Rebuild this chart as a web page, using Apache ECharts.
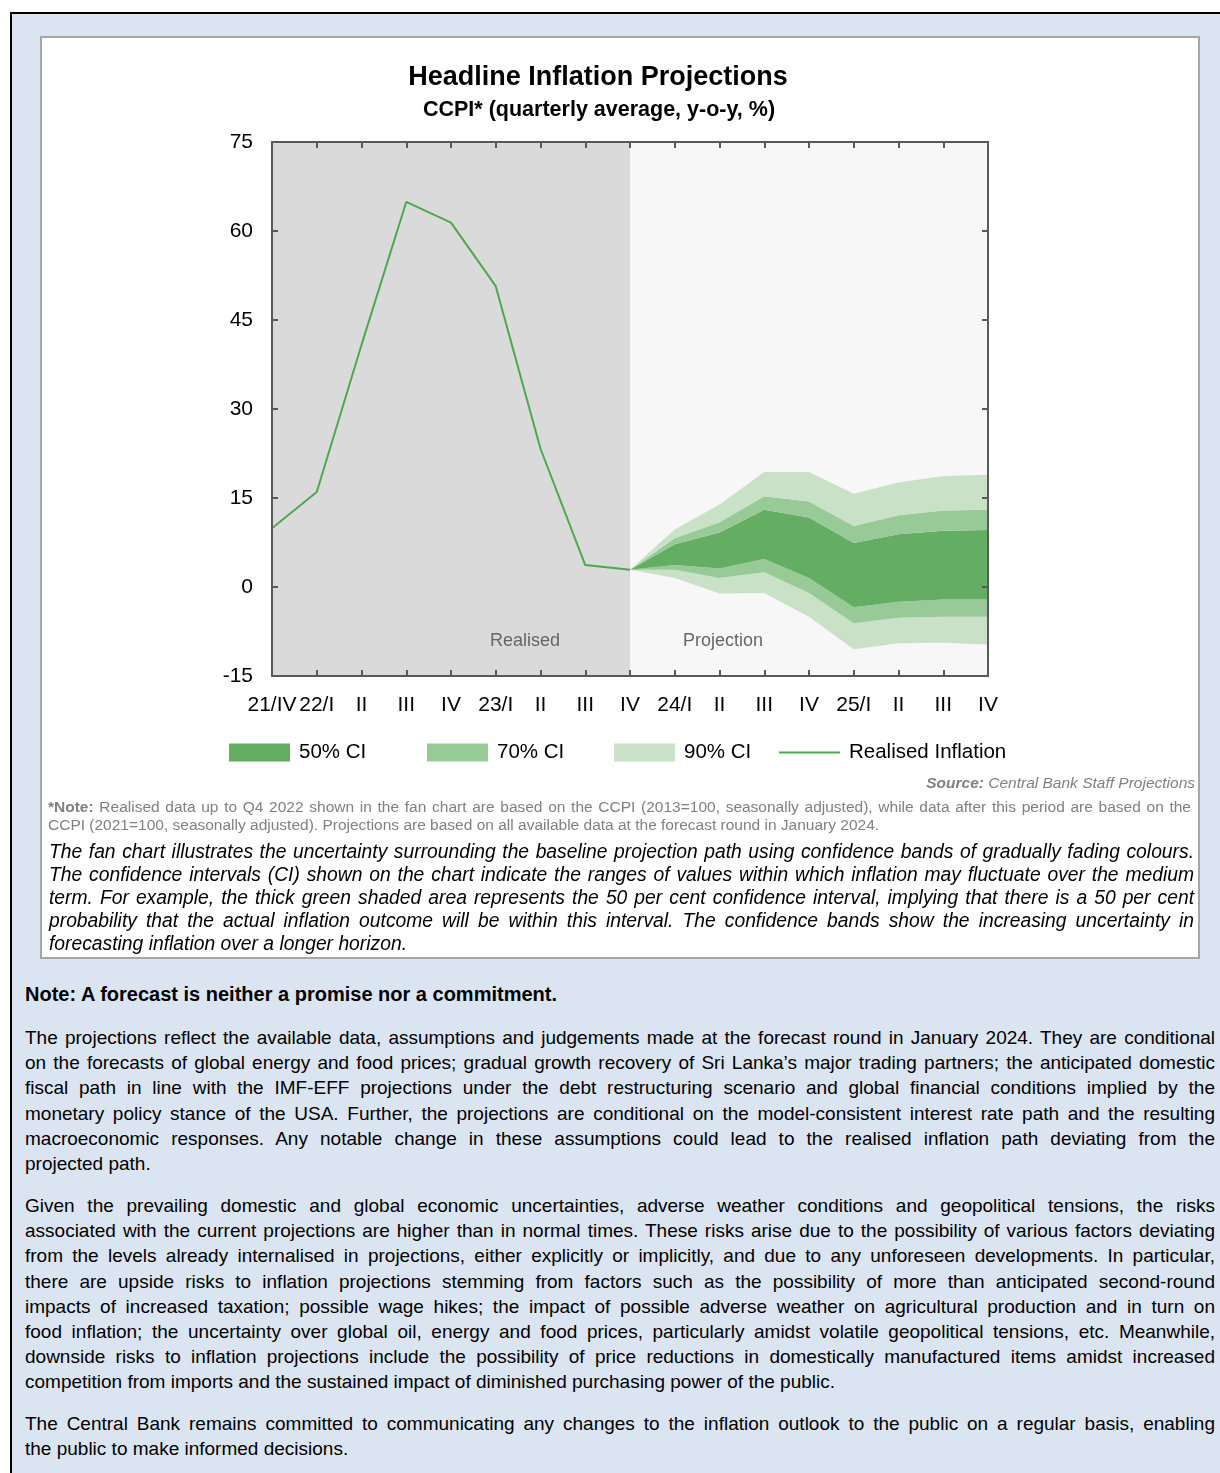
<!DOCTYPE html>
<html>
<head>
<meta charset="utf-8">
<script src="https://cdn.jsdelivr.net/npm/echarts@6/dist/echarts.min.js"></script>
<style>
    body { margin: 0; width: 1220px; height: 1473px; background: #fff; position: relative; overflow: hidden;
           font-family: "Liberation Sans", Arial, sans-serif; }
    #page { position: absolute; left: 10px; top: 12px; width: 1210px; height: 1461px; background: #dbe5f1;
            border-top: 2px solid #000; border-left: 2px solid #000; box-sizing: border-box; }
    #box { position: absolute; left: 40px; top: 36px; width: 1160px; height: 923px; background: #fff;
           border: 2px solid #a6a6a6; box-sizing: border-box; }
    #chart { position: absolute; left: 0; top: 0; width: 1220px; height: 800px; }
    .j { text-align: justify; text-align-last: justify; white-space: nowrap; }
    .src { position: absolute; right: 25px; top: 774px; font-size: 15.5px; font-style: italic; color: #808080; }
    .note { position: absolute; left: 48px; top: 798px; width: 1143px; font-size: 15.5px; line-height: 18px; color: #808080; }
    .fan { position: absolute; left: 49px; top: 840px; width: 1145px; font-size: 19.3px; line-height: 23px; font-style: italic; color: #000; }
    .head { position: absolute; left: 25px; top: 983px; font-size: 20px; font-weight: bold; color: #000; }
    .para { position: absolute; left: 25px; width: 1190px; font-size: 19px; line-height: 25.2px; color: #000; }
</style>
</head>
<body>
<div id="page"></div>
<div id="box"></div>
<div id="chart"></div>

<div class="src"><b>Source:</b> Central Bank Staff Projections</div>
<div class="note">
    <div class="j"><b>*Note:</b> Realised data up to Q4 2022 shown in the fan chart are based on the CCPI (2013=100, seasonally adjusted), while data after this period are based on the</div>
    <div>CCPI (2021=100, seasonally adjusted). Projections are based on all available data at the forecast round in January 2024.</div>
</div>
<div class="fan">
    <div class="j">The fan chart illustrates the uncertainty surrounding the baseline projection path using confidence bands of gradually fading colours.</div>
    <div class="j">The confidence intervals (CI) shown on the chart indicate the ranges of values within which inflation may fluctuate over the medium</div>
    <div class="j">term. For example, the thick green shaded area represents the 50 per cent confidence interval, implying that there is a 50 per cent</div>
    <div class="j">probability that the actual inflation outcome will be within this interval. The confidence bands show the increasing uncertainty in</div>
    <div>forecasting inflation over a longer horizon.</div>
</div>

<div class="head">Note: A forecast is neither a promise nor a commitment.</div>
<div class="para" style="top:1025px">
    <div class="j">The projections reflect the available data, assumptions and judgements made at the forecast round in January 2024. They are conditional</div>
    <div class="j">on the forecasts of global energy and food prices; gradual growth recovery of Sri Lanka’s major trading partners; the anticipated domestic</div>
    <div class="j">fiscal path in line with the IMF-EFF projections under the debt restructuring scenario and global financial conditions implied by the</div>
    <div class="j">monetary policy stance of the USA. Further, the projections are conditional on the model-consistent interest rate path and the resulting</div>
    <div class="j">macroeconomic responses. Any notable change in these assumptions could lead to the realised inflation path deviating from the</div>
    <div>projected path.</div>
</div>
<div class="para" style="top:1193px">
    <div class="j">Given the prevailing domestic and global economic uncertainties, adverse weather conditions and geopolitical tensions, the risks</div>
    <div class="j">associated with the current projections are higher than in normal times. These risks arise due to the possibility of various factors deviating</div>
    <div class="j">from the levels already internalised in projections, either explicitly or implicitly, and due to any unforeseen developments. In particular,</div>
    <div class="j">there are upside risks to inflation projections stemming from factors such as the possibility of more than anticipated second-round</div>
    <div class="j">impacts of increased taxation; possible wage hikes; the impact of possible adverse weather on agricultural production and in turn on</div>
    <div class="j">food inflation; the uncertainty over global oil, energy and food prices, particularly amidst volatile geopolitical tensions, etc. Meanwhile,</div>
    <div class="j">downside risks to inflation projections include the possibility of price reductions in domestically manufactured items amidst increased</div>
    <div>competition from imports and the sustained impact of diminished purchasing power of the public.</div>
</div>
<div class="para" style="top:1411px">
    <div class="j">The Central Bank remains committed to communicating any changes to the inflation outlook to the public on a regular basis, enabling</div>
    <div>the public to make informed decisions.</div>
</div>

<script>
var quarters = ['21/IV', '22/I', 'II', 'III', 'IV', '23/I', 'II', 'III', 'IV', '24/I', 'II', 'III', 'IV', '25/I', 'II', 'III', 'IV'];
var realised = [9.9, 16.0, 40.8, 64.9, 61.4, 50.7, 23.3, 3.7, 2.9];

// fan bands start at 22/IV (index 8)
var fanStart = 8;
var ci90Low = [2.9, 1.5, -1.1, -1.0, -5.0, -10.5, -9.5, -9.4, -9.7];
var ci70Low = [2.9, 2.9, 1.5, 2.5, -1.0, -6.1, -5.2, -5.0, -5.0];
var ci50Low = [2.9, 3.7, 3.1, 4.7, 1.5, -3.4, -2.5, -2.1, -2.1];
var ci50High = [2.9, 7.2, 9.2, 13.0, 11.7, 7.4, 8.9, 9.5, 9.6];
var ci70High = [2.9, 8.2, 10.9, 15.3, 14.4, 10.3, 12.1, 12.9, 13.0];
var ci90High = [2.9, 9.7, 13.9, 19.4, 19.4, 15.7, 17.6, 18.7, 18.9];

var yTicks = { min: -15, max: 75, interval: 15 };

var colors = {
    ci50: '#63ae62',
    ci70: '#97ca96',
    ci90: '#c8e1c7',
    line: '#4ea84d',
    axis: '#595959'
};
var font = '"Liberation Sans", Arial, sans-serif';

function pad(arr) {
    var out = [];
    for (var i = 0; i < quarters.length; i++) {
        out.push(i < fanStart ? '-' : arr[i - fanStart]);
    }
    return out;
}
function diff(hi, lo) {
    return hi.map(function (v, i) { return +(v - lo[i]).toFixed(2); });
}
function band(name, data, color) {
    return {
        name: name,
        type: 'line',
        stack: 'fan',
        stackStrategy: 'all',
        data: pad(data),
        symbol: 'none',
        lineStyle: { width: 0, opacity: 0 },
        itemStyle: { color: color },
        areaStyle: { color: color, opacity: 1 },
        z: 3,
        silent: true
    };
}
function legendAt(left, name, color, isLine) {
    return {
        left: left,
        top: 742,
        padding: 0,
        data: [{ name: name, icon: 'rect', itemStyle: { color: color } }],
        itemWidth: 61,
        itemHeight: isLine ? 2 : 18,
        textStyle: { fontFamily: font, fontSize: 20.5, color: '#000', padding: [5, 0, 0, 4] },
        selectedMode: false
    };
}

var axisLine = { show: true, onZero: false, lineStyle: { color: colors.axis, width: 2 } };
var axisTick = { show: true, inside: true, length: 6, lineStyle: { color: colors.axis, width: 2 } };

var option = {
    animation: false,
    title: [
        { text: 'Headline Inflation Projections', left: 593, top: 59, textAlign: 'center',
          textStyle: { fontFamily: font, fontSize: 27, fontWeight: 'bold', color: '#000' } },
        { text: 'CCPI* (quarterly average, y-o-y, %)', left: 594, top: 94, textAlign: 'center',
          textStyle: { fontFamily: font, fontSize: 21.5, fontWeight: 'bold', color: '#000' } }
    ],
    legend: [
        legendAt(229, '50% CI', colors.ci50),
        legendAt(427, '70% CI', colors.ci70),
        legendAt(614, '90% CI', colors.ci90),
        legendAt(779, 'Realised Inflation', colors.line, true)
    ],
    grid: { left: 272, right: 232, top: 142, bottom: 124 },
    xAxis: [
        {
            type: 'category', data: quarters, boundaryGap: false, z: 10,
            axisLine: axisLine, axisTick: Object.assign({ interval: 0 }, axisTick),
            axisLabel: { interval: 0, fontFamily: font, fontSize: 21, color: '#000', margin: 19 },
            splitLine: { show: false }
        },
        {
            type: 'category', data: quarters, boundaryGap: false, position: 'top', z: 10,
            axisLine: axisLine, axisTick: Object.assign({ interval: 0 }, axisTick),
            axisLabel: { show: false }, splitLine: { show: false }
        }
    ],
    yAxis: [
        {
            type: 'value', min: yTicks.min, max: yTicks.max, interval: yTicks.interval, z: 10,
            axisLine: axisLine, axisTick: axisTick,
            axisLabel: { fontFamily: font, fontSize: 21, color: '#000', margin: 19 },
            splitLine: { show: false }
        },
        {
            type: 'value', position: 'right', min: yTicks.min, max: yTicks.max, interval: yTicks.interval, z: 10,
            axisLine: axisLine, axisTick: axisTick,
            axisLabel: { show: false }, splitLine: { show: false }
        }
    ],
    series: [
        {
            name: 'base', type: 'line', stack: 'fan', stackStrategy: 'all',
            data: pad(ci90Low), symbol: 'none', lineStyle: { width: 0, opacity: 0 }, silent: true,
            markArea: {
                silent: true,
                data: [
                    [{ xAxis: 0, itemStyle: { color: '#dadada' } }, { xAxis: fanStart }],
                    [{ xAxis: fanStart, itemStyle: { color: '#f7f7f7' } }, { xAxis: quarters.length - 1 }]
                ]
            }
        },
        band('90% CI', diff(ci70Low, ci90Low), colors.ci90),
        band('70% CI', diff(ci50Low, ci70Low), colors.ci70),
        band('50% CI', diff(ci50High, ci50Low), colors.ci50),
        band('70% CI', diff(ci70High, ci50High), colors.ci70),
        band('90% CI', diff(ci90High, ci70High), colors.ci90),
        {
            name: 'Realised Inflation', type: 'line', data: realised,
            symbol: 'none', lineStyle: { color: colors.line, width: 2 },
            itemStyle: { color: colors.line }, z: 4
        }
    ],
    graphic: [
        { type: 'text', left: 490, top: 632, z: 100, style: { text: 'Realised', fontFamily: font, fontSize: 18, fill: '#666' } },
        { type: 'text', left: 683, top: 632, z: 100, style: { text: 'Projection', fontFamily: font, fontSize: 18, fill: '#666' } }
    ]
};

var myChart = echarts.init(document.getElementById('chart'));
myChart.setOption(option);
</script>
</body>
</html>
